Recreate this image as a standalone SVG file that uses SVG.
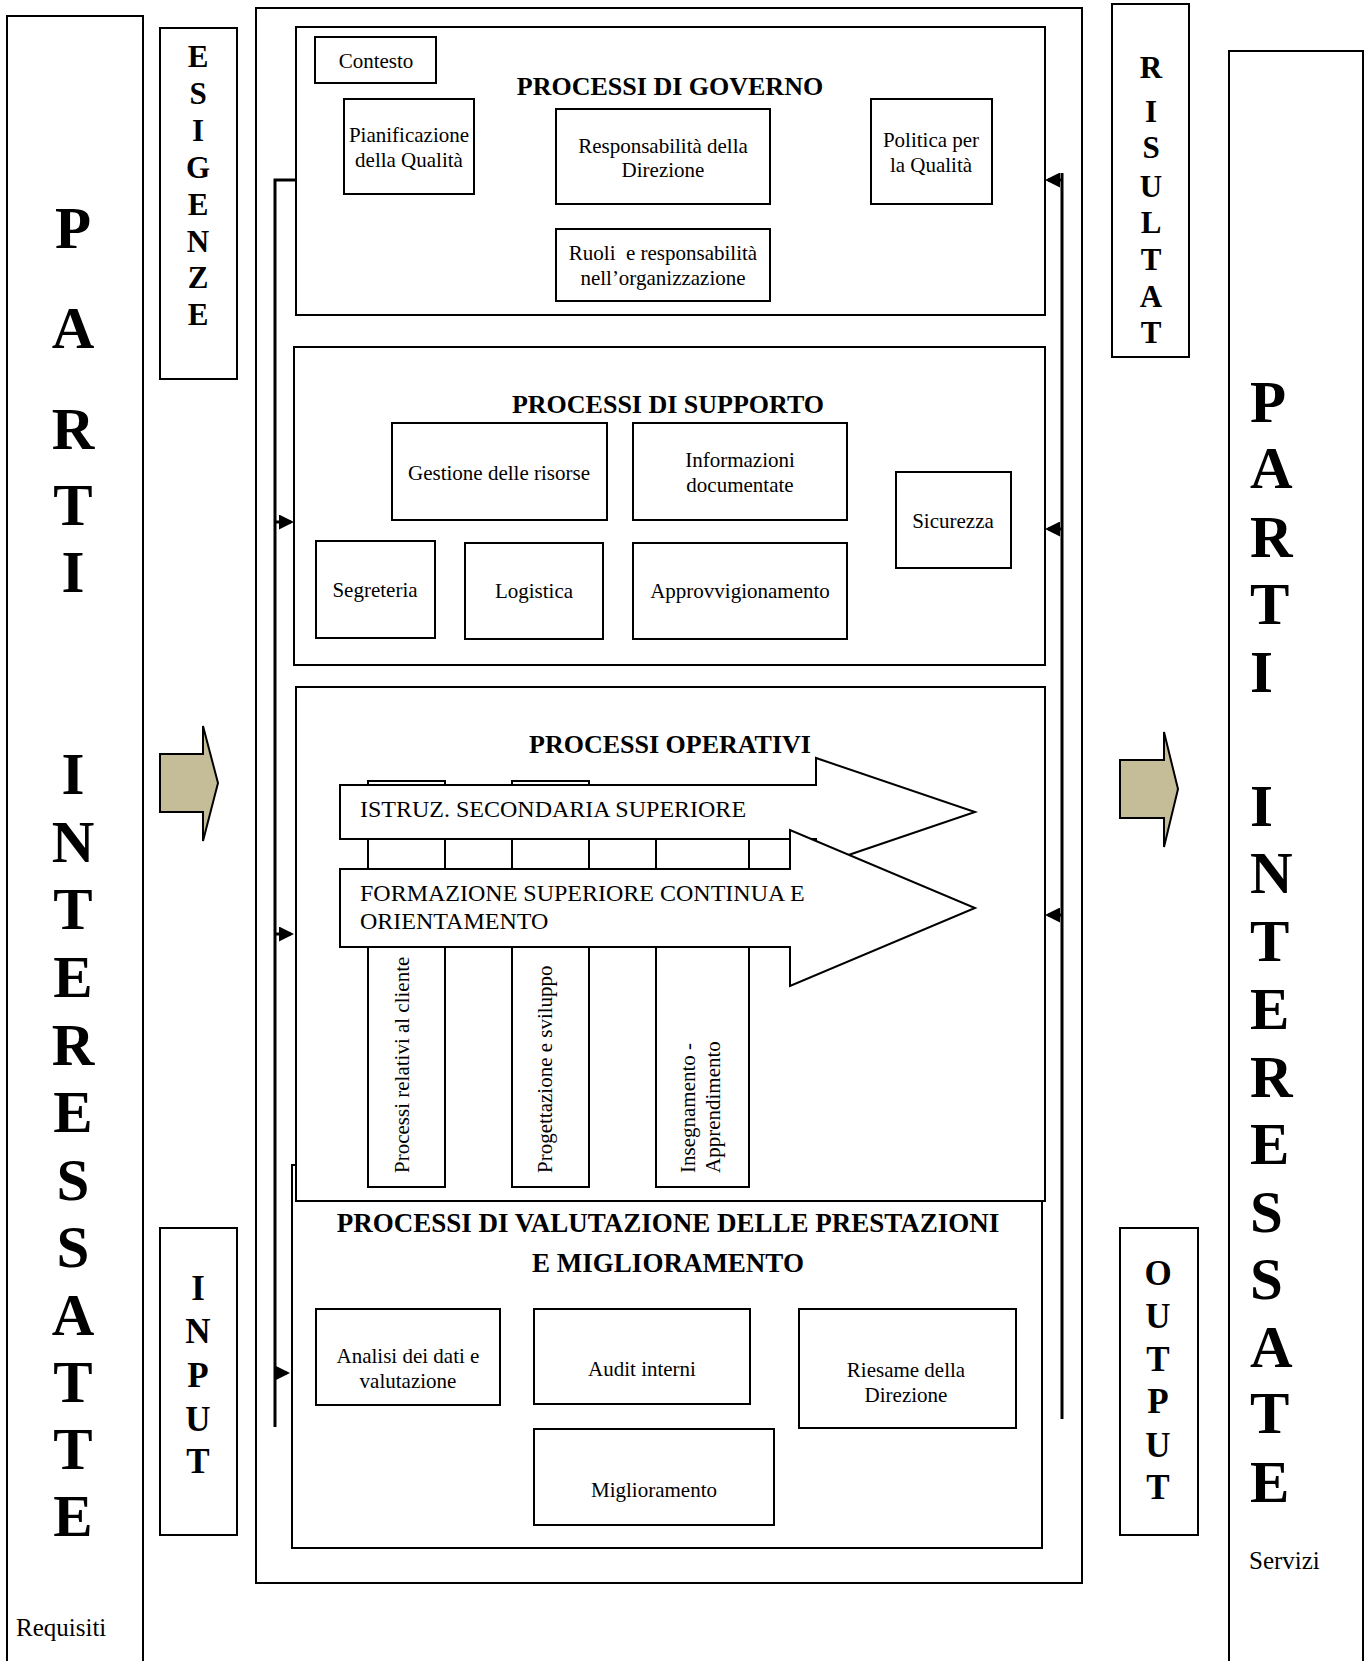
<svg xmlns="http://www.w3.org/2000/svg" width="1370" height="1661" viewBox="0 0 1370 1661">
<style>
.b{fill:#fff;stroke:#000;stroke-width:2}
.f{fill:#fff;stroke:#000;stroke-width:2;stroke-linejoin:miter}
.tan{fill:#C4BD97;stroke:#000;stroke-width:2}
text{font-family:"Liberation Serif","Times New Roman",serif;fill:#000}
.t{font-size:21px;text-anchor:middle}
.h{font-size:26px;font-weight:bold;text-anchor:middle}
.h2{font-size:27px}
.a{font-size:24px}
.big{font-size:59px;font-weight:bold}
.mid{font-size:31px;font-weight:bold;text-anchor:middle}
.io{font-size:35px;font-weight:bold;text-anchor:middle}
.lab{font-size:25px}
.v{font-size:21px}
.conn{fill:none;stroke:#000;stroke-width:3}
</style>
<defs>
<marker id="ah" viewBox="0 0 10 10" refX="8" refY="5" markerWidth="15" markerHeight="15" markerUnits="userSpaceOnUse" orient="auto">
<path d="M0,0 L10,5 L0,10 z" fill="#000"/>
</marker>
</defs>

<g id="parti-left">
<rect class="b" x="7" y="16" width="136" height="1660"/>
<g class="big" text-anchor="middle">
<text x="73" y="248">P</text><text x="73" y="348">A</text><text x="73" y="449">R</text><text x="73" y="525">T</text><text x="73" y="592">I</text>
<text x="73" y="794">I</text><text x="73" y="862">N</text><text x="73" y="929">T</text><text x="73" y="997">E</text><text x="73" y="1065">R</text><text x="73" y="1132">E</text><text x="73" y="1200">S</text><text x="73" y="1267">S</text><text x="73" y="1335">A</text><text x="73" y="1402">T</text><text x="73" y="1469">T</text><text x="73" y="1536">E</text>
</g>
<text class="lab" x="16" y="1636">Requisiti</text>
</g>

<g id="parti-right">
<rect class="b" x="1229" y="51" width="134" height="1625"/>
<g class="big">
<text x="1250" y="422">P</text><text x="1250" y="488">A</text><text x="1250" y="557">R</text><text x="1250" y="624">T</text><text x="1250" y="692">I</text>
<text x="1250" y="826">I</text><text x="1250" y="893">N</text><text x="1250" y="961">T</text><text x="1250" y="1029">E</text><text x="1250" y="1097">R</text><text x="1250" y="1164">E</text><text x="1250" y="1232">S</text><text x="1250" y="1299">S</text><text x="1250" y="1367">A</text><text x="1250" y="1433">T</text><text x="1250" y="1502">E</text>
</g>
<text class="lab" x="1249" y="1569">Servizi</text>
</g>

<g id="esigenze">
<rect class="b" x="160" y="28" width="77" height="351"/>
<g class="mid">
<text x="198" y="67">E</text><text x="198" y="104">S</text><text x="198" y="141">I</text><text x="198" y="178">G</text><text x="198" y="215">E</text><text x="198" y="252">N</text><text x="198" y="288">Z</text><text x="198" y="325">E</text>
</g>
</g>

<g id="risultat">
<rect class="b" x="1112" y="4" width="77" height="353"/>
<g class="mid">
<text x="1151" y="78">R</text><text x="1151" y="122">I</text><text x="1151" y="158">S</text><text x="1151" y="197">U</text><text x="1151" y="233">L</text><text x="1151" y="270">T</text><text x="1151" y="307">A</text><text x="1151" y="343">T</text>
</g>
</g>

<g id="input">
<rect class="b" x="160" y="1228" width="77" height="307"/>
<g class="io">
<text x="198" y="1300">I</text><text x="198" y="1343">N</text><text x="198" y="1387">P</text><text x="198" y="1431">U</text><text x="198" y="1473">T</text>
</g>
</g>

<g id="output">
<rect class="b" x="1120" y="1228" width="78" height="307"/>
<g class="io">
<text x="1158" y="1285">O</text><text x="1158" y="1328">U</text><text x="1158" y="1371">T</text><text x="1158" y="1413">P</text><text x="1158" y="1457">U</text><text x="1158" y="1499">T</text>
</g>
</g>

<g id="arrow-in">
<polygon class="tan" points="160,754 203,754 203,726 218,783 203,841 203,812 160,812"/>
</g>
<g id="arrow-out">
<polygon class="tan" points="1120,760 1164,760 1164,732 1178,789 1164,847 1164,818 1120,818"/>
</g>

<g id="sistema">
<rect class="b" x="256" y="8" width="826" height="1575"/>
</g>

<g id="governo">
<rect class="b" x="296" y="27" width="749" height="288"/>
<text class="h" x="670" y="95">PROCESSI DI GOVERNO</text>
<rect class="b" x="315" y="37" width="121" height="46"/>
<text class="t" x="376" y="68">Contesto</text>
<rect class="b" x="344" y="99" width="130" height="95"/>
<text class="t" x="409" y="142">Pianificazione</text>
<text class="t" x="409" y="167">della Qualità</text>
<rect class="b" x="556" y="109" width="214" height="95"/>
<text class="t" x="663" y="153">Responsabilità della</text>
<text class="t" x="663" y="177">Direzione</text>
<rect class="b" x="871" y="99" width="121" height="105"/>
<text class="t" x="931" y="147">Politica per</text>
<text class="t" x="931" y="172">la Qualità</text>
<rect class="b" x="556" y="229" width="214" height="72"/>
<text class="t" x="663" y="260" xml:space="preserve">Ruoli  e responsabilità</text>
<text class="t" x="663" y="285">nell’organizzazione</text>
</g>

<g id="supporto">
<rect class="b" x="294" y="347" width="751" height="318"/>
<text class="h" x="668" y="413">PROCESSI DI SUPPORTO</text>
<rect class="b" x="392" y="423" width="215" height="97"/>
<text class="t" x="499" y="480">Gestione delle risorse</text>
<rect class="b" x="633" y="423" width="214" height="97"/>
<text class="t" x="740" y="467">Informazioni</text>
<text class="t" x="740" y="492">documentate</text>
<rect class="b" x="896" y="472" width="115" height="96"/>
<text class="t" x="953" y="528">Sicurezza</text>
<rect class="b" x="316" y="541" width="119" height="97"/>
<text class="t" x="375" y="597">Segreteria</text>
<rect class="b" x="465" y="543" width="138" height="96"/>
<text class="t" x="534" y="598">Logistica</text>
<rect class="b" x="633" y="543" width="214" height="96"/>
<text class="t" x="740" y="598">Approvvigionamento</text>
</g>

<g id="valutazione">
<rect class="b" x="292" y="1165" width="750" height="383"/>
<text class="h h2" x="668" y="1232">PROCESSI DI VALUTAZIONE DELLE PRESTAZIONI</text>
<text class="h h2" x="668" y="1272">E MIGLIORAMENTO</text>
<rect class="b" x="316" y="1309" width="184" height="96"/>
<text class="t" x="408" y="1363">Analisi dei dati e</text>
<text class="t" x="408" y="1388">valutazione</text>
<rect class="b" x="534" y="1309" width="216" height="95"/>
<text class="t" x="642" y="1376">Audit interni</text>
<rect class="b" x="799" y="1309" width="217" height="119"/>
<text class="t" x="906" y="1377">Riesame della</text>
<text class="t" x="906" y="1402">Direzione</text>
<rect class="b" x="534" y="1429" width="240" height="96"/>
<text class="t" x="654" y="1497">Miglioramento</text>
</g>

<g id="operativi">
<rect class="b" x="296" y="687" width="749" height="514"/>
<text class="h" x="670" y="753">PROCESSI OPERATIVI</text>
<g id="col-cliente">
<rect class="b" x="368" y="781" width="77" height="406"/>
<text class="v" transform="translate(409,1173) rotate(-90)">Processi relativi al cliente</text>
</g>
<g id="col-progettazione">
<rect class="b" x="512" y="781" width="77" height="406"/>
<text class="v" transform="translate(552,1173) rotate(-90)">Progettazione e sviluppo</text>
</g>
<g id="col-insegnamento">
<rect class="b" x="656" y="795" width="93" height="392"/>
<text class="v" transform="translate(695,1173) rotate(-90)">Insegnamento -</text>
<text class="v" transform="translate(720,1173) rotate(-90)">Apprendimento</text>
</g>
<g id="istruz">
<polygon class="f" points="340,785 816,785 816,758 975,812 816,866 816,839 340,839"/>
<text class="a" x="360" y="817">ISTRUZ. SECONDARIA SUPERIORE</text>
</g>
<g id="formazione">
<polygon class="f" points="340,869 790,869 790,830 975,908 790,986 790,947 340,947"/>
<text class="a" x="360" y="901">FORMAZIONE SUPERIORE CONTINUA E</text>
<text class="a" x="360" y="929">ORIENTAMENTO</text>
</g>
</g>

<g id="connectors">
<path class="conn" d="M296,180 H275 V1427"/>
<path class="conn" d="M275,522 H291" marker-end="url(#ah)"/>
<path class="conn" d="M275,934 H291" marker-end="url(#ah)"/>
<path class="conn" d="M275,1373 H287" marker-end="url(#ah)"/>
<path class="conn" d="M1062,173 V1419"/>
<path class="conn" d="M1062,180 H1048" marker-end="url(#ah)"/>
<path class="conn" d="M1062,529 H1048" marker-end="url(#ah)"/>
<path class="conn" d="M1062,915 H1048" marker-end="url(#ah)"/>
</g>
</svg>
